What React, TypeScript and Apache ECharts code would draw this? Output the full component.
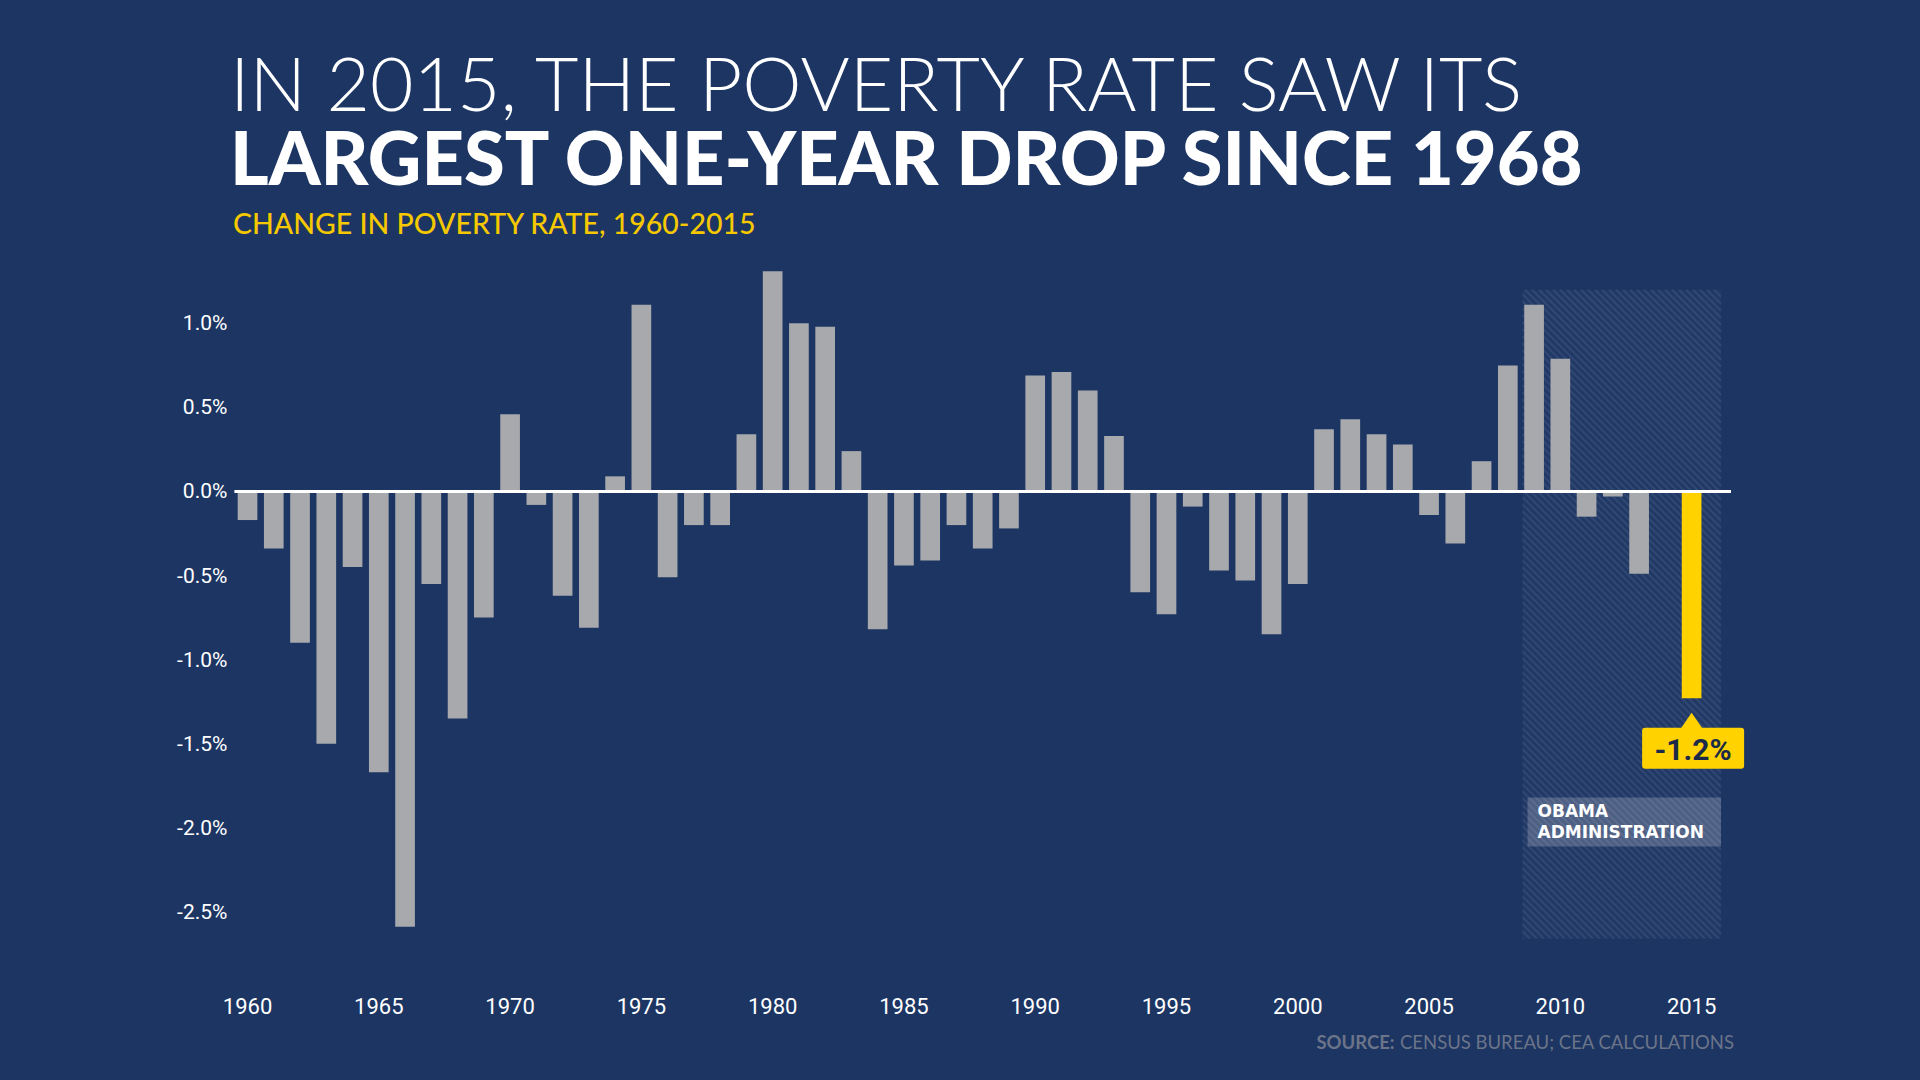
import React, { useEffect, useRef } from "react";
import * as echarts from "echarts";

// ---- Data ----
const years = [
  "1960", "1961", "1962", "1963", "1964", "1965", "1966", "1967", "1968", "1969",
  "1970", "1971", "1972", "1973", "1974", "1975", "1976", "1977", "1978", "1979",
  "1980", "1981", "1982", "1983", "1984", "1985", "1986", "1987", "1988", "1989",
  "1990", "1991", "1992", "1993", "1994", "1995", "1996", "1997", "1998", "1999",
  "2000", "2001", "2002", "2003", "2004", "2005", "2006", "2007", "2008", "2009",
  "2010", "2011", "2012", "2013", "2014", "2015", "2016",
];

// change in poverty rate, percentage points (2016 slot is empty padding)
const changes: (number | null)[] = [
  -0.17, -0.34, -0.9, -1.5, -0.45, -1.67, -2.59, -0.55, -1.35, -0.75,
  0.46, -0.08, -0.62, -0.81, 0.09, 1.11, -0.51, -0.2, -0.2, 0.34,
  1.31, 1.0, 0.98, 0.24, -0.82, -0.44, -0.41, -0.2, -0.34, -0.22,
  0.69, 0.71, 0.6, 0.33, -0.6, -0.73, -0.09, -0.47, -0.53, -0.85,
  -0.55, 0.37, 0.43, 0.34, 0.28, -0.14, -0.31, 0.18, 0.75, 1.11,
  0.79, -0.15, -0.03, -0.49, 0, -1.23, null,
];

const xTickLabels = ["1960", "1965", "1970", "1975", "1980", "1985", "1990", "1995", "2000", "2005", "2010", "2015"];
const yTickLabels = [-2.5, -2.0, -1.5, -1.0, -0.5, 0.0, 0.5, 1.0];

const highlightYear = "2015";
const highlightLabel = "-1.2%";
const shadeStartYear = "2009";
const shadeEndYear = "2016";
const shadeLabel = "OBAMA\nADMINISTRATION";

const titleLine1 = "IN 2015, THE POVERTY RATE SAW ITS";
const titleLine2 = "LARGEST ONE-YEAR DROP SINCE 1968";
const subtitle = "CHANGE IN POVERTY RATE, 1960-2015";

// ---- Styles ----
const BG = "#1c3563";
const BAR = "#a7a9ac";
const YELLOW = "#ffd200";
const SOURCE_COLOR = "#6b7489";

export default function App() {
  const ref = useRef<HTMLDivElement>(null);

  useEffect(() => {
    if (!ref.current) return;
    const chart = echarts.init(ref.current, null, { renderer: "svg" });

    const seriesData = changes.map((v, i) =>
      years[i] === highlightYear ? { value: v, itemStyle: { color: YELLOW } } : v
    );

    chart.setOption({
      animation: false,
      backgroundColor: BG,
      grid: { left: 234.4, right: 189, top: 239.3, bottom: 84.2, containLabel: false },
      xAxis: {
        type: "category",
        data: years,
        axisLine: { show: false },
        axisTick: { show: false },
        splitLine: { show: false },
        axisLabel: {
          interval: (_idx: number, val: string) => xTickLabels.includes(val),
          color: "#ffffff",
          fontFamily: "Roboto",
          fontWeight: 400,
          fontSize: 22,
          margin: 0,
        },
      },
      yAxis: {
        type: "value",
        min: -3,
        max: 1.5,
        interval: 0.5,
        axisLine: { show: false },
        axisTick: { show: false },
        splitLine: { show: false },
        axisLabel: {
          color: "#ffffff",
          fontFamily: "Roboto",
          fontWeight: 400,
          fontSize: 21,
          margin: 7,
          lineHeight: 26,
          padding: [6, 0, 0, 0],
          formatter: (v: number) =>
            yTickLabels.some((t) => Math.abs(t - v) < 1e-9) ? v.toFixed(1) + "%" : "",
        },
      },
      series: [
        {
          type: "bar",
          data: seriesData,
          barCategoryGap: "25%",
          itemStyle: { color: BAR },
          z: 3,
          markLine: {
            silent: true,
            symbol: ["none", "none"],
            label: { show: false },
            lineStyle: { color: "#ffffff", width: 3, type: "solid" },
            data: [{ yAxis: 0 }],
            z: 5,
          },
        },
      ],
    });

    const toPx = (cat: string, val: number) =>
      chart.convertToPixel({ gridIndex: 0 }, [years.indexOf(cat), val]) as number[];

    const slot = toPx("1961", 0)[0] - toPx("1960", 0)[0];

    // shaded region
    const sx0 = toPx(shadeStartYear, 0)[0] - 0.44 * slot;
    const sx1 = toPx(shadeEndYear, 0)[0] + 0.12 * slot;
    const sy0 = toPx(shadeStartYear, 1.2)[1];
    const sy1 = toPx(shadeStartYear, -2.66)[1];

    const stripes: any[] = [];
    const step = 7;
    for (let d = sy0 - sx1; d <= sy1 - sx0; d += step) {
      const xa = Math.max(sx0, sy0 - d);
      const xb = Math.min(sx1, sy1 - d);
      if (xb > xa) {
        stripes.push({
          type: "line",
          silent: true,
          z: 1,
          shape: { x1: xa, y1: xa + d, x2: xb, y2: xb + d },
          style: { stroke: "rgba(255,255,255,0.08)", lineWidth: 2 },
        });
      }
    }

    // highlight label
    const hi = changes[years.indexOf(highlightYear)] as number;
    const hb = toPx(highlightYear, hi);
    const boxW = 102;
    const boxH = 41;
    const boxTop = hb[1] + 29.5;
    const tipY = hb[1] + 14.5;

    // obama box
    const obY = toPx(shadeStartYear, -1.82)[1];

    chart.setOption({
      graphic: {
        elements: [
          {
            type: "text",
            x: 230,
            y: 82,
            style: {
              text: titleLine1,
              fill: "#ffffff",
              font: "300 75px Lato",
              lineHeight: 62,
              textAlign: "left",
              textVerticalAlign: "middle",
            },
          },
          {
            type: "text",
            x: 230,
            y: 156,
            style: {
              text: titleLine2,
              fill: "#ffffff",
              font: "900 74px Lato",
              lineHeight: 62,
              textAlign: "left",
              textVerticalAlign: "middle",
            },
          },
          {
            type: "text",
            x: 233,
            y: 223,
            style: {
              text: subtitle,
              fill: "#f5c800",
              font: "500 28.5px Lato",
              textAlign: "left",
              textVerticalAlign: "middle",
            },
          },
          {
            type: "text",
            x: 1734,
            y: 1042,
            style: {
              text: "{b|SOURCE:} {r|CENSUS BUREAU; CEA CALCULATIONS}",
              fill: SOURCE_COLOR,
              font: "18.5px Lato",
              textAlign: "right",
              textVerticalAlign: "middle",
              rich: {
                b: { fill: SOURCE_COLOR, font: "bold 18.5px Lato" },
                r: { fill: SOURCE_COLOR, font: "18.5px Lato" },
              },
            },
          },
          {
            type: "rect",
            silent: true,
            z: 0,
            shape: { x: sx0, y: sy0, width: sx1 - sx0, height: sy1 - sy0 },
            style: { fill: "rgba(255,255,255,0.025)" },
          },
          ...stripes,
          {
            type: "rect",
            z: 10,
            shape: { x: sx0 + 5, y: obY, width: sx1 - sx0 - 5, height: 49 },
            style: { fill: "rgba(255,255,255,0.2)" },
          },
          {
            type: "text",
            z: 11,
            x: sx0 + 15,
            y: obY + 24.5,
            style: {
              text: shadeLabel,
              fill: "#ffffff",
              font: "bold 17px 'DejaVu Sans'",
              lineHeight: 21,
              textAlign: "left",
              textVerticalAlign: "middle",
            },
          },
          {
            type: "polygon",
            z: 10,
            shape: {
              points: [
                [hb[0] - 11, boxTop + 1],
                [hb[0], tipY],
                [hb[0] + 11, boxTop + 1],
              ],
            },
            style: { fill: YELLOW },
          },
          {
            type: "rect",
            z: 10,
            shape: { x: hb[0] - boxW / 2 + 1.5, y: boxTop, width: boxW, height: boxH, r: 3 },
            style: { fill: YELLOW },
          },
          {
            type: "text",
            z: 11,
            x: hb[0] + 1.5,
            y: boxTop + boxH / 2 + 1,
            style: {
              text: highlightLabel,
              fill: "#1b2a48",
              font: "bold 30px Roboto",
              textAlign: "center",
              textVerticalAlign: "middle",
            },
          },
        ],
      },
    });

    return () => chart.dispose();
  }, []);

  return (
    <div
      ref={ref}
      style={{ position: "fixed", left: 0, top: 0, width: 1920, height: 1080 }}
    />
  );
}
